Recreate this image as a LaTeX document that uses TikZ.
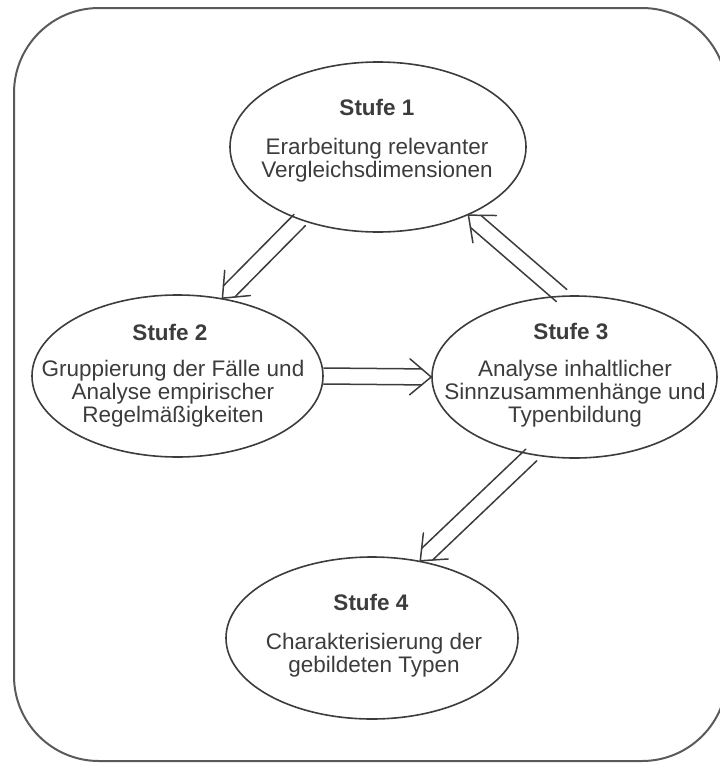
\documentclass[tikz,border=0pt]{standalone}
\usepackage{fontspec}
\setmainfont{Liberation Sans}
\usetikzlibrary{calc,shapes.geometric}

\definecolor{inkgray}{HTML}{3C3C3C}
\definecolor{framegray}{HTML}{5A5A5A}

% half distance between the two shafts, barb length, shaft shortening
\newcommand\arrh{8pt}
\newcommand\arrb{28pt}
\newcommand\arrd{9.5pt}

% hollow double-shaft arrow from #1 to the tip #2
\newcommand\dblarrow[2]{%
  \draw[arrline] ($(#1)!\arrh!90:(#2)$) -- ($(#2)!\arrd!(#1)!\arrh!-90:(#1)$);
  \draw[arrline] ($(#1)!\arrh!-90:(#2)$) -- ($(#2)!\arrd!(#1)!\arrh!90:(#1)$);
  \draw[arrline] ($(#2)!\arrb!40:(#1)$) -- (#2) -- ($(#2)!\arrb!-40:(#1)$);
}

\tikzset{
  stage/.style={draw=inkgray, line width=1.6pt, ellipse, inner sep=0pt},
  title/.style={font=\fontsize{22.5}{22.8}\selectfont\bfseries, text=inkgray, inner sep=0pt, anchor=base},
  % multi-line text: the base anchor sits on the last line
  desc/.style={font=\fontsize{22.5}{22.8}\selectfont, text=inkgray, inner sep=0pt, align=center, anchor=base},
  arrline/.style={draw=inkgray, line width=1.5pt, line cap=round, line join=miter},
  frame/.style={draw=framegray, line width=2pt, rounded corners=85pt}
}

\begin{document}
\begin{tikzpicture}[x=1pt, y=-1pt]
  \useasboundingbox (0,0) rectangle (720,763);
  \draw[frame] (14,8) rectangle (727,761);

  % the four stages
  \node[stage, minimum width=296pt, minimum height=170pt] (s1) at (378,147) {};
  \node[stage, minimum width=291pt, minimum height=162pt] (s2) at (177.5,376) {};
  \node[stage, minimum width=285pt, minimum height=162pt] (s3) at (574.5,377) {};
  \node[stage, minimum width=292pt, minimum height=162pt] (s4) at (372,638) {};

  \node[title] (s1t) at (377,115) {Stufe 1};
  \node[desc]  (s1d) at (377,177) {Erarbeitung relevanter\\Vergleichsdimensionen};

  \node[title] (s2t) at (170,340) {Stufe 2};
  \node[desc]  (s2d) at (173,422) {Gruppierung der Fälle und\\Analyse empirischer\\Regelmäßigkeiten};

  \node[title] (s3t) at (571,339) {Stufe 3};
  \node[desc]  (s3d) at (575,422) {Analyse inhaltlicher\\Sinnzusammenhänge und\\Typenbildung};

  \node[title] (s4t) at (371,610) {Stufe 4};
  \node[desc]  (s4d) at (374,672) {Charakterisierung der\\gebildeten Typen};

  % transitions between the stages
  \dblarrow{s1.223}{s2.60}
  \dblarrow{s2.east}{s3.west}
  \dblarrow{s3.99}{s1.-37}
  \dblarrow{s3.241}{s4.58}
\end{tikzpicture}
\end{document}
